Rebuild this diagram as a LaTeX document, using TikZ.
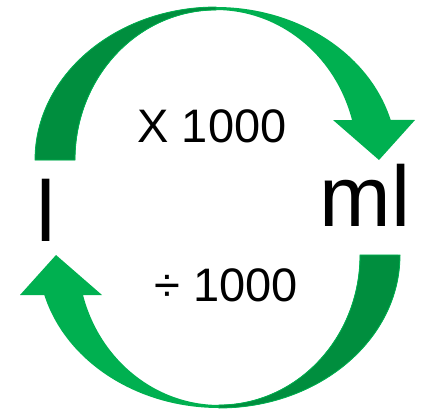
\documentclass[tikz,border=0pt]{standalone}
\usepackage{fontspec}
\setmainfont{Liberation Sans}
\usetikzlibrary{positioning}
\definecolor{ArrowLight}{HTML}{00B050}
\definecolor{ArrowDark}{HTML}{008E3E}
\tikzset{unit/.style={font=\fontsize{86}{90}\selectfont,anchor=base,inner sep=0pt},
 factor/.style={font=\fontsize{47}{50}\selectfont,anchor=base,inner sep=0pt}}
\begin{document}
\begin{tikzpicture}[x=1pt,y=1pt]
\useasboundingbox (0,0) rectangle (422,408);
\coordinate (c) at (217.5,200.5);
% the two bent arrows, the lower one turned round c
\foreach \r in {0,180}{
\begin{scope}[rotate around={\r:(c)}]
\fill[ArrowLight] (35,248) arc[start angle=180,end angle=15.2,x radius=181,y radius=153]
 -- (415,288) -- (379,248) -- (333,288) -- (352,288)
 arc[start angle=15.5,end angle=180,x radius=141,y radius=150] -- cycle;
\filldraw[fill=ArrowDark,draw=ArrowLight,line width=.8pt] (35,248)
 arc[start angle=180,end angle=90,x radius=181,y radius=153] -- (216,398)
 arc[start angle=90,end angle=180,x radius=141,y radius=150] -- cycle;
\end{scope}}
\node[factor] (times) at (212,266) {X 1000};
\node[factor] (divide) at (226,107) {÷ 1000};
\node[unit] (litre) at (46.5,167) {l};
\node[unit] (millilitre) at (365,182) {ml};
\end{tikzpicture}
\end{document}
